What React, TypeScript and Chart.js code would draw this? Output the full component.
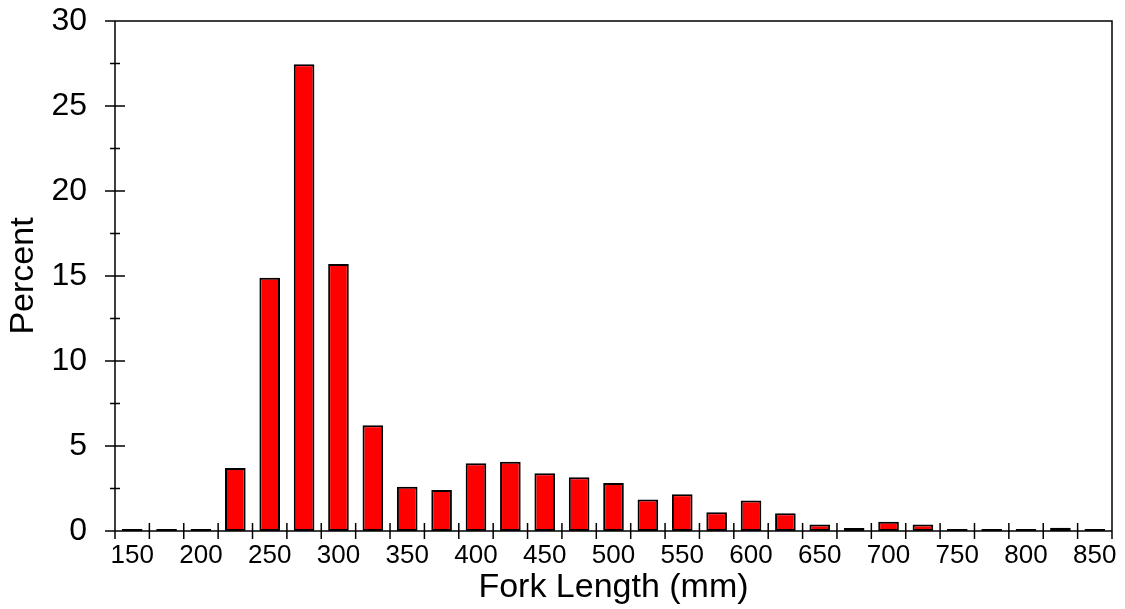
import React, { useEffect, useRef } from "react";
import { Chart, registerables } from "chart.js";

Chart.register(...registerables);

// Bin centres (Fork Length, mm) and percent of fish in each bin
const binCenters = [150, 175, 200, 225, 250, 275, 300, 325, 350, 375, 400, 425, 450, 475, 500, 525, 550, 575, 600, 625, 650, 675, 700, 725, 750, 775, 800, 825, 850];
const percentValues = [0.03, 0.08, 0.08, 3.7, 14.9, 27.45, 15.7, 6.22, 2.61, 2.41, 3.98, 4.08, 3.39, 3.16, 2.82, 1.86, 2.16, 1.1, 1.8, 1.05, 0.38, 0.17, 0.54, 0.38, 0.1, 0.03, 0.1, 0.19, 0.03];
const xTickLabels = [150, 200, 250, 300, 350, 400, 450, 500, 550, 600, 650, 700, 750, 800, 850];
const yTickValues = [0, 5, 10, 15, 20, 25, 30];
const yMinorTicks = [2.5, 7.5, 12.5, 17.5, 22.5, 27.5];
const binWidth = 25;
const xMin = 137.5;
const xMax = 862.5;

const FONT = "'Liberation Sans', Arial, Helvetica, sans-serif";

const framePlugin = {
  id: "frameTicks",
  afterDraw(chart: any) {
    const ctx = chart.ctx;
    const { left, right, top, bottom } = chart.chartArea;
    const xs = chart.scales.x;
    const ys = chart.scales.y;
    ctx.save();
    ctx.strokeStyle = "#000";
    ctx.lineWidth = 1.5;
    ctx.beginPath();
    ctx.moveTo(left, top);
    ctx.lineTo(right, top);
    ctx.lineTo(right, bottom);
    ctx.moveTo(left, top);
    ctx.lineTo(left, bottom);
    ctx.moveTo(left, bottom);
    ctx.lineTo(right, bottom);
    for (let e = xMin; e <= xMax + 0.001; e += binWidth) {
      const px = xs.getPixelForValue(e);
      ctx.moveTo(px, bottom - 8);
      ctx.lineTo(px, bottom + 8);
    }
    yTickValues.forEach((v) => {
      const py = ys.getPixelForValue(v);
      ctx.moveTo(left - 10, py);
      ctx.lineTo(left + 10, py);
    });
    yMinorTicks.forEach((v) => {
      const py = ys.getPixelForValue(v);
      ctx.moveTo(left - 5, py);
      ctx.lineTo(left + 5, py);
    });
    ctx.stroke();
    ctx.restore();
  },
};

export default function App() {
  const canvasRef = useRef<HTMLCanvasElement | null>(null);

  useEffect(() => {
    if (!canvasRef.current) return;
    const chart = new Chart(canvasRef.current, {
      type: "bar",
      data: {
        datasets: [
          {
            data: binCenters.map((x, i) => ({ x, y: percentValues[i] })),
            backgroundColor: "#ff0000",
            borderColor: "#000000",
            borderWidth: 2,
            borderSkipped: false,
            barPercentage: 0.6,
            categoryPercentage: 1,
            minBarLength: 2,
          },
        ],
      },
      options: {
        animation: false,
        responsive: false,
        devicePixelRatio: 1,
        layout: { padding: { left: 0, top: 21, right: 13, bottom: 0 } },
        plugins: {
          legend: { display: false },
          tooltip: { enabled: false },
        },
        scales: {
          x: {
            type: "linear",
            min: xMin,
            max: xMax,
            offset: false,
            grid: { display: false, drawTicks: true, tickLength: 9 },
            border: { display: false },
            afterBuildTicks: (scale: any) => {
              scale.ticks = xTickLabels.map((v) => ({ value: v }));
            },
            afterFit: (scale: any) => {
              scale.height = 78;
            },
            ticks: {
              autoSkip: false,
              maxRotation: 0,
              padding: 0,
              color: "#000",
              font: { family: FONT, size: 26 },
              callback: (v: any) => String(v),
            },
            title: {
              display: true,
              text: "Fork Length (mm)",
              color: "#000",
              font: { family: FONT, size: 34, lineHeight: 1 },
              padding: { top: 0, bottom: 4 },
            },
          },
          y: {
            type: "linear",
            min: 0,
            max: 30,
            grid: { display: false, drawTicks: true, tickLength: 28 },
            border: { display: false },
            afterBuildTicks: (scale: any) => {
              scale.ticks = yTickValues.map((v) => ({ value: v }));
            },
            afterFit: (scale: any) => {
              scale.width = 115;
            },
            ticks: {
              padding: 0,
              color: "#000",
              font: { family: FONT, size: 32 },
            },
            title: {
              display: true,
              text: "Percent",
              color: "#000",
              font: { family: FONT, size: 34, lineHeight: 1 },
              padding: { top: 7, bottom: 0 },
            },
          },
        },
      },
      plugins: [framePlugin],
    });
    return () => chart.destroy();
  }, []);

  return (
    <div style={{ position: "absolute", left: 0, top: 0, width: 1125, height: 609, background: "#fff" }}>
      <canvas ref={canvasRef} width={1125} height={609} style={{ width: 1125, height: 609 }} />
    </div>
  );
}
